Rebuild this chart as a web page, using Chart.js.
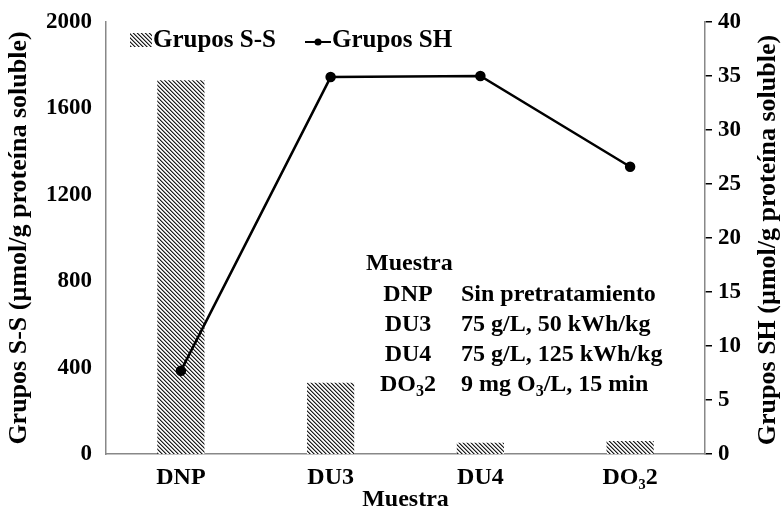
<!DOCTYPE html>
<html>
<head>
<meta charset="utf-8">
<script src="https://cdn.jsdelivr.net/npm/chart.js@4.4.1/dist/chart.umd.min.js"></script>
<style>
  html, body { margin: 0; padding: 0; background: #fff; }
  #wrap { width: 783px; height: 513px; }
</style>
</head>
<body>
<div id="wrap"><canvas id="chart" width="783" height="513"></canvas></div>
<script>
const categories = ['DNP', 'DU3', 'DU4', 'DO\u20832'];
const ssValues = [1730, 330, 52, 60];
const shValues = [7.7, 34.9, 35.0, 26.6];
const ssTicks = [0, 400, 800, 1200, 1600, 2000];
const shTicks = [0, 5, 10, 15, 20, 25, 30, 35, 40];

const FONT = '"Liberation Serif", "Times New Roman", serif';

// hatch pattern for the S-S bars (diagonal "\" stripes)
function makeHatch() {
    const c = document.createElement('canvas');
    c.width = 12; c.height = 12;
    const g = c.getContext('2d');
    const img = g.createImageData(12, 12);
    const shades = [30, 140, 255, 225];
    for (let y = 0; y < 12; y++) {
        for (let x = 0; x < 12; x++) {
            const v = shades[((x - y) % 4 + 4) % 4];
            const i = (y * 12 + x) * 4;
            img.data[i] = v; img.data[i + 1] = v; img.data[i + 2] = v; img.data[i + 3] = 255;
        }
    }
    g.putImageData(img, 0, 0);
    return g.createPattern(c, 'repeat');
}
const hatch = makeHatch();

// draw text with a subscript part, e.g. ['DO', '3', '2']
function drawSub(ctx, parts, x, y, align, size) {
    const big = 'bold ' + size + 'px ' + FONT;
    const small = 'bold ' + Math.round(size * 0.68) + 'px ' + FONT;
    let w = 0;
    parts.forEach((p, i) => { ctx.font = i % 2 ? small : big; w += ctx.measureText(p).width; });
    let cx = align === 'center' ? x - w / 2 : x;
    ctx.textAlign = 'left';
    parts.forEach((p, i) => {
        ctx.font = i % 2 ? small : big;
        ctx.fillText(p, cx, i % 2 ? y + 7 : y);
        cx += ctx.measureText(p).width;
    });
}

// legend, right axis title and the sample key drawn on top of the chart
const notePlugin = {
    id: 'note',
    afterDraw(chart) {
        const ctx = chart.ctx;
        const area = chart.chartArea;
        ctx.save();
        ctx.fillStyle = '#000';
        ctx.textBaseline = 'middle';

        // legend
        ctx.fillStyle = hatch;
        ctx.fillRect(130, 33, 22, 14);
        ctx.fillStyle = '#000';
        ctx.font = 'bold 25px ' + FONT;
        ctx.textAlign = 'left';
        ctx.fillText('Grupos S-S', 153, 41);
        ctx.strokeStyle = '#000';
        ctx.lineWidth = 2;
        ctx.beginPath(); ctx.moveTo(305, 42); ctx.lineTo(331, 42); ctx.stroke();
        ctx.beginPath(); ctx.arc(318, 42, 3.5, 0, Math.PI * 2); ctx.fill();
        ctx.fillText('Grupos SH', 332, 41);

        // right axis title, reading bottom to top like the left one
        ctx.save();
        ctx.translate(768, (area.top + area.bottom) / 2 + 2);
        ctx.rotate(-Math.PI / 2);
        ctx.textAlign = 'center';
        ctx.font = 'bold 26px ' + FONT;
        ctx.fillText('Grupos SH (\u00b5mol/g prote\u00edna soluble)', 0, 0);
        ctx.restore();

        // sample key
        const fs = 24;
        ctx.font = 'bold ' + fs + 'px ' + FONT;
        ctx.textAlign = 'left';
        ctx.fillText('Muestra', 366, 264);
        ctx.textAlign = 'center';
        ctx.fillText('DNP', 408, 295);
        ctx.fillText('DU3', 408, 325);
        ctx.fillText('DU4', 408, 355);
        drawSub(ctx, ['DO', '3', '2'], 408, 385, 'center', fs);
        ctx.textAlign = 'left';
        ctx.font = 'bold ' + fs + 'px ' + FONT;
        ctx.fillText('Sin pretratamiento', 461, 295);
        ctx.fillText('75 g/L, 50 kWh/kg', 461, 325);
        ctx.fillText('75 g/L, 125 kWh/kg', 461, 355);
        drawSub(ctx, ['9 mg O', '3', '/L, 15 min'], 461, 385, 'left', fs);
        ctx.restore();
    }
};

const tickFont = { family: FONT, size: 23, weight: 'bold' };
const labelFont = { family: FONT, size: 24, weight: 'bold' };
const titleFont = { family: FONT, size: 26, weight: 'bold' };

new Chart(document.getElementById('chart'), {
    data: {
        labels: categories,
        datasets: [
            {
                type: 'line',
                label: 'Grupos SH',
                data: shValues,
                yAxisID: 'y1',
                borderColor: '#000',
                backgroundColor: '#000',
                borderWidth: 2.5,
                pointRadius: 4,
                pointBackgroundColor: '#000',
                tension: 0,
                order: 0
            },
            {
                type: 'bar',
                label: 'Grupos S-S',
                data: ssValues,
                yAxisID: 'y',
                backgroundColor: hatch,
                borderWidth: 0,
                categoryPercentage: 1,
                barPercentage: 0.315,
                order: 1
            }
        ]
    },
    options: {
        responsive: false,
        animation: false,
        layout: { padding: { top: 22, left: 0, right: 0, bottom: 0 } },
        plugins: {
            tooltip: { enabled: false },
            legend: { display: false }
        },
        scales: {
            x: {
                offset: true,
                grid: { display: false },
                border: { display: true, color: '#888', width: 1.5 },
                ticks: { color: '#000', font: labelFont, padding: 1, maxRotation: 0 },
                title: { display: true, text: 'Muestra', color: '#000', font: labelFont, padding: { top: 0, bottom: -1 } },
                afterFit(s) { s.height = 59; }
            },
            y: {
                position: 'left',
                min: 0, max: 2000,
                afterBuildTicks(s) { s.ticks = ssTicks.map(v => ({ value: v })); },
                grid: { display: false },
                border: { display: true, color: '#888', width: 1.5 },
                ticks: { color: '#000', font: tickFont, padding: 6, callback: v => String(v) },
                title: { display: true, text: 'Grupos S-S (\u00b5mol/g prote\u00edna soluble)', color: '#000', font: titleFont, padding: { top: 4, bottom: 0 } },
                afterFit(s) { s.width = 106; }
            },
            y1: {
                position: 'right',
                min: 0, max: 40,
                afterBuildTicks(s) { s.ticks = shTicks.map(v => ({ value: v })); },
                grid: { display: true, drawOnChartArea: false, color: '#000', tickLength: 7, lineWidth: 1.5 },
                border: { display: true, color: '#888', width: 1.5 },
                ticks: { color: '#000', font: tickFont, padding: 6, callback: v => String(v) },
                title: { display: false },
                afterFit(s) { s.width = 78; }
            }
        }
    },
    plugins: [notePlugin]
});
</script>
</body>
</html>
